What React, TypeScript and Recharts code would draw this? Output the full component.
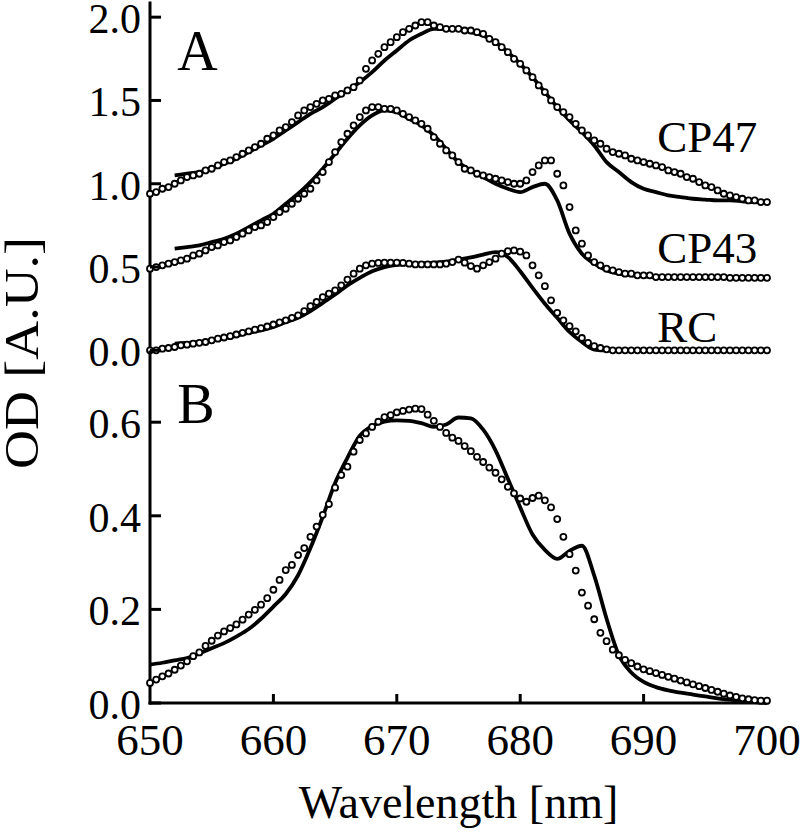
import { ComposedChart, Line, XAxis, YAxis, ReferenceDot } from "recharts";

const FONT = "Liberation Serif";
const INK = "#000";

// axis ticks
const X_TICKS = [650, 660, 670, 680, 690, 700];
const INNER_X_TICKS = [660, 670, 680, 690];
const Y_TICKS_A = [0, 0.5, 1, 1.5, 2];
const Y_TICKS_B = [0, 0.2, 0.4, 0.6];
const RIGHT_TICKS_A = [0.446, 0.893, 1.339, 1.786];
const RIGHT_TICKS_B = [0.107, 0.214, 0.321, 0.429, 0.536, 0.643];

// wavelengths (nm)
const WL_OBS = [
  650, 650.5, 651, 651.5, 652, 652.5, 653, 653.5, 654, 654.5,
  655, 655.5, 656, 656.5, 657, 657.5, 658, 658.5, 659, 659.5,
  660, 660.5, 661, 661.5, 662, 662.5, 663, 663.5, 664, 664.5,
  665, 665.5, 666, 666.5, 667, 667.5, 668, 668.5, 669, 669.5,
  670, 670.5, 671, 671.5, 672, 672.5, 673, 673.5, 674, 674.5,
  675, 675.5, 676, 676.5, 677, 677.5, 678, 678.5, 679, 679.5,
  680, 680.5, 681, 681.5, 682, 682.5, 683, 683.5, 684, 684.5,
  685, 685.5, 686, 686.5, 687, 687.5, 688, 688.5, 689, 689.5,
  690, 690.5, 691, 691.5, 692, 692.5, 693, 693.5, 694, 694.5,
  695, 695.5, 696, 696.5, 697, 697.5, 698, 698.5, 699, 699.5,
  700,
];
const WL_FIT_A = [
  652, 653, 654, 655, 656, 657, 658, 659, 660, 661,
  662, 663, 664, 665, 666, 667, 668, 669, 670, 671,
  672, 673, 674, 675, 676, 677, 678, 679, 680, 681,
  682, 683, 684, 685, 686, 687, 688, 689, 690, 691,
  692, 693, 694, 695, 696, 697, 698, 699, 700,
];
const WL_FIT_B = [
  650, 651, 652, 653, 654, 655, 656, 657, 658, 659,
  660, 661, 662, 663, 664, 665, 666, 667, 668, 669,
  670, 671, 672, 673, 674, 675, 676, 677, 678, 679,
  680, 681, 682, 683, 684, 685, 686, 687, 688, 689,
  690, 691, 692, 693, 694, 695, 696, 697, 698, 699,
  700,
];

// panel A, measured (circles)
const CP47_OBS = [
  0.94, 0.95, 0.97, 0.98, 1.0, 1.02, 1.04, 1.05, 1.06, 1.08,
  1.09, 1.11, 1.13, 1.14, 1.16, 1.18, 1.2, 1.22, 1.24, 1.27,
  1.29, 1.32, 1.34, 1.37, 1.41, 1.44, 1.46, 1.48, 1.5, 1.51,
  1.53, 1.54, 1.56, 1.58, 1.62, 1.69, 1.74, 1.78, 1.82, 1.85,
  1.88, 1.91, 1.93, 1.95, 1.97, 1.97, 1.95, 1.94, 1.93, 1.93,
  1.93, 1.92, 1.92, 1.91, 1.9, 1.87, 1.85, 1.82, 1.79, 1.75,
  1.72, 1.68, 1.64, 1.59, 1.55, 1.5, 1.46, 1.43, 1.4, 1.36,
  1.32, 1.29, 1.26, 1.24, 1.21, 1.19, 1.18, 1.17, 1.15, 1.14,
  1.13, 1.12, 1.11, 1.1, 1.08, 1.07, 1.06, 1.04, 1.03, 1.01,
  0.99, 0.98, 0.96, 0.94, 0.93, 0.92, 0.91, 0.9, 0.9, 0.89,
  0.89,
];
const CP43_OBS = [
  0.49, 0.5, 0.51, 0.52, 0.53, 0.54, 0.55, 0.57, 0.58, 0.6,
  0.62, 0.63, 0.65, 0.66, 0.68, 0.7, 0.72, 0.74, 0.75, 0.77,
  0.8, 0.83, 0.85, 0.88, 0.91, 0.94, 0.97, 1.02, 1.07, 1.13,
  1.19, 1.25, 1.3, 1.35, 1.4, 1.44, 1.46, 1.46, 1.45, 1.45,
  1.44, 1.42, 1.4, 1.38, 1.36, 1.33, 1.28, 1.24, 1.2, 1.17,
  1.13, 1.09, 1.08, 1.06, 1.05, 1.04, 1.03, 1.02, 1.01, 1.0,
  1.0, 1.02, 1.07, 1.11, 1.14, 1.14, 1.06, 0.99, 0.86, 0.72,
  0.64, 0.57, 0.53, 0.51, 0.49, 0.48, 0.47, 0.46, 0.46, 0.45,
  0.45, 0.45, 0.44, 0.44, 0.44, 0.44, 0.44, 0.44, 0.44, 0.44,
  0.44, 0.44, 0.44, 0.44, 0.435, 0.435, 0.435, 0.435, 0.435, 0.435,
  0.435,
];
const RC_OBS = [
  0.0, 0.0, 0.01, 0.014, 0.02, 0.03, 0.034, 0.04, 0.045, 0.05,
  0.06, 0.07, 0.077, 0.085, 0.095, 0.105, 0.114, 0.124, 0.133, 0.143,
  0.155, 0.168, 0.18, 0.195, 0.21, 0.235, 0.265, 0.29, 0.32, 0.34,
  0.36, 0.39, 0.425, 0.46, 0.49, 0.51, 0.52, 0.525, 0.526, 0.526,
  0.526, 0.525, 0.52, 0.516, 0.516, 0.516, 0.516, 0.516, 0.52, 0.53,
  0.545, 0.526, 0.506, 0.49, 0.51, 0.53, 0.55, 0.58, 0.595, 0.6,
  0.592, 0.57, 0.51, 0.45, 0.385, 0.3, 0.225, 0.18, 0.145, 0.114,
  0.074, 0.045, 0.025, 0.014, 0.006, 0, 0, 0, 0, 0,
  0, 0, 0, 0, 0, 0, 0, 0, 0, 0,
  0, 0, 0, 0, 0, 0, 0, 0, 0, 0,
  0,
];

// panel A, fitted (solid)
const CP47_FIT = [
  1.05, 1.06, 1.07, 1.09, 1.12, 1.15, 1.19, 1.23, 1.27, 1.32,
  1.37, 1.42, 1.46, 1.51, 1.56, 1.61, 1.67, 1.74, 1.8, 1.86,
  1.9, 1.93, 1.93, 1.93, 1.91, 1.89, 1.85, 1.79, 1.72, 1.64,
  1.55, 1.46, 1.38, 1.31, 1.23, 1.13, 1.07, 1.01, 0.97, 0.95,
  0.93, 0.92, 0.91, 0.905, 0.9, 0.9, 0.895, 0.89, 0.89,
];
const CP43_FIT = [
  0.61, 0.62, 0.63, 0.65, 0.67, 0.7, 0.74, 0.78, 0.82, 0.88,
  0.94, 1.01, 1.09, 1.18, 1.27, 1.35, 1.41, 1.44, 1.43, 1.39,
  1.35, 1.29, 1.21, 1.13, 1.08, 1.04, 1.0, 0.97, 0.95, 0.98,
  1.0, 0.9, 0.7, 0.58, 0.52, 0.48, 0.46, 0.45, 0.445, 0.44,
  0.44, 0.44, 0.44, 0.44, 0.44, 0.435, 0.435, 0.435, 0.435,
];
const RC_FIT = [
  0.04, 0.045, 0.05, 0.06, 0.073, 0.087, 0.105, 0.12, 0.14, 0.17,
  0.195, 0.235, 0.285, 0.335, 0.39, 0.435, 0.475, 0.5, 0.513, 0.518,
  0.522, 0.526, 0.533, 0.545, 0.558, 0.575, 0.59, 0.56, 0.475, 0.375,
  0.28, 0.195, 0.11, 0.05, 0.005, 0, 0, 0, 0, 0,
  0, 0, 0, 0, 0, 0, 0, 0, 0,
];

// panel B
const B_OBS = [
  0.043, 0.05, 0.057, 0.063, 0.071, 0.08, 0.089, 0.1, 0.108, 0.122,
  0.133, 0.144, 0.153, 0.16, 0.168, 0.178, 0.189, 0.199, 0.21, 0.224,
  0.242, 0.263, 0.284, 0.295, 0.316, 0.331, 0.355, 0.377, 0.402, 0.425,
  0.46, 0.487, 0.505, 0.537, 0.562, 0.576, 0.59, 0.601, 0.611, 0.615,
  0.621, 0.624, 0.627, 0.629, 0.628, 0.616, 0.603, 0.59, 0.577, 0.567,
  0.56, 0.549, 0.538, 0.526, 0.515, 0.503, 0.492, 0.478, 0.462, 0.448,
  0.437, 0.43, 0.438, 0.443, 0.433, 0.418, 0.393, 0.355, 0.318, 0.283,
  0.236, 0.208, 0.179, 0.15, 0.132, 0.114, 0.102, 0.092, 0.085, 0.078,
  0.072, 0.068, 0.064, 0.06, 0.056, 0.052, 0.048, 0.044, 0.04, 0.036,
  0.032, 0.028, 0.024, 0.02, 0.016, 0.013, 0.01, 0.008, 0.006, 0.005,
  0.005,
];
const B_FIT = [
  0.082, 0.086, 0.091, 0.096, 0.106, 0.117, 0.128, 0.142, 0.158, 0.18,
  0.206, 0.233, 0.273, 0.331, 0.398, 0.47, 0.524, 0.571, 0.592, 0.601,
  0.604, 0.603, 0.598, 0.59, 0.595, 0.61, 0.608, 0.584, 0.54, 0.479,
  0.418, 0.36, 0.327, 0.308, 0.325, 0.336, 0.272, 0.18, 0.102, 0.065,
  0.045, 0.034, 0.027, 0.022, 0.018, 0.014, 0.01, 0.007, 0.004, 0.002,
  0,
];

const pts = (xs: number[], ys: number[]) => ys.map((v, i) => ({ x: xs[i], v }));

const axisLine = { stroke: INK, strokeWidth: 3, strokeLinecap: "square" as const };
const openDot = { r: 3, fill: "#fff", stroke: INK, strokeWidth: 1.8 };

function leftTick(p: any) {
  return (
    <g>
      <line x1={p.x} x2={p.x + 11} y1={p.y} y2={p.y} stroke={INK} strokeWidth={3} />
      <text x={p.x - 9} y={p.y + 2} textAnchor="end" dominantBaseline="central"
        fontFamily={FONT} fontSize={42} fill={INK}>
        {Number(p.payload.value).toFixed(1)}
      </text>
    </g>
  );
}

// right axis of panel B alternates long and short marks
function rightTickB(p: any) {
  const len = p.index % 2 === 1 ? 12 : 7;
  return <line x1={p.x} x2={p.x - len} y1={p.y} y2={p.y} stroke={INK} strokeWidth={3} />;
}

function rightTickA(p: any) {
  return <line x1={p.x} x2={p.x - 12} y1={p.y} y2={p.y} stroke={INK} strokeWidth={3} />;
}

function topTick(p: any) {
  return <line x1={p.x} x2={p.x} y1={p.y} y2={p.y + 10} stroke={INK} strokeWidth={3} />;
}

function upTick(p: any) {
  return <line x1={p.x} x2={p.x} y1={p.y} y2={p.y - 9} stroke={INK} strokeWidth={3} />;
}

function bottomTick(p: any) {
  const v = p.payload.value;
  const inner = v !== 650 && v !== 700;
  return (
    <g>
      {inner && <line x1={p.x} x2={p.x} y1={p.y} y2={p.y - 9} stroke={INK} strokeWidth={3} />}
      <text x={p.x} y={p.y + 52} textAnchor="middle" fontFamily={FONT} fontSize={45} fill={INK}>
        {v}
      </text>
    </g>
  );
}

function yTitle() {
  return (
    <text transform="translate(38,353) rotate(-90)" textAnchor="middle"
      fontFamily={FONT} fontSize={48} fill={INK} textLength={232} lengthAdjust="spacingAndGlyphs">
      OD [A.U.]
    </text>
  );
}

const tagStyle = (size: number) => ({
  position: "right" as const,
  offset: 0,
  fontSize: size,
  fill: INK,
  fontFamily: FONT,
});

function PanelA() {
  return (
    <ComposedChart width={800} height={833} margin={{ top: 3, right: 33, bottom: 481, left: 0 }}>
      <XAxis xAxisId="b" type="number" dataKey="x" domain={[650, 700]} ticks={INNER_X_TICKS}
        height={0} interval={0} tickSize={0} tickMargin={0} tickLine={false}
        axisLine={axisLine} tick={upTick} />
      <XAxis xAxisId="t" orientation="top" type="number" dataKey="x" domain={[650, 700]}
        ticks={INNER_X_TICKS} height={0} interval={0} tickSize={0} tickMargin={0}
        tickLine={false} axisLine={axisLine} tick={topTick} />
      <YAxis yAxisId="l" type="number" domain={[-0.01, 2.085]} ticks={Y_TICKS_A} width={150}
        interval={0} tickSize={0} tickMargin={0} tickLine={false} axisLine={axisLine}
        tick={leftTick} label={yTitle} />
      <YAxis yAxisId="r" orientation="right" type="number" domain={[-0.01, 2.085]}
        ticks={RIGHT_TICKS_A} width={0} interval={0} tickSize={0} tickMargin={0}
        tickLine={false} axisLine={axisLine} tick={rightTickA} />
      {[CP47_FIT, CP43_FIT, RC_FIT].map((s, i) => (
        <Line key={"fa" + i} xAxisId="b" yAxisId="l" data={pts(WL_FIT_A, s)} dataKey="v"
          type="monotone" stroke={INK} strokeWidth={3.8} dot={false} isAnimationActive={false} />
      ))}
      {[CP47_OBS, CP43_OBS, RC_OBS].map((s, i) => (
        <Line key={"oa" + i} xAxisId="b" yAxisId="l" data={pts(WL_OBS, s)} dataKey="v"
          stroke="none" dot={openDot} activeDot={false} isAnimationActive={false} />
      ))}
      <ReferenceDot xAxisId="b" yAxisId="l" x={652.2} y={1.8} r={0} fill="none" stroke="none"
        label={{ value: "A", ...tagStyle(56) }} />
      <ReferenceDot xAxisId="b" yAxisId="l" x={691.1} y={1.287} r={0} fill="none" stroke="none"
        label={{ value: "CP47", ...tagStyle(45) }} />
      <ReferenceDot xAxisId="b" yAxisId="l" x={691.1} y={0.62} r={0} fill="none" stroke="none"
        label={{ value: "CP43", ...tagStyle(45) }} />
      <ReferenceDot xAxisId="b" yAxisId="l" x={691.1} y={0.146} r={0} fill="none" stroke="none"
        label={{ value: "RC", ...tagStyle(45) }} />
    </ComposedChart>
  );
}

function PanelB() {
  return (
    <ComposedChart width={800} height={833} margin={{ top: 352, right: 33, bottom: 0, left: 0 }}>
      <XAxis xAxisId="b" type="number" dataKey="x" domain={[650, 700]} ticks={X_TICKS}
        height={130} interval={0} tickSize={0} tickMargin={0} tickLine={false}
        axisLine={axisLine} tick={bottomTick}
        label={{ value: "Wavelength [nm]", position: "insideBottom", offset: 15,
          fontSize: 46, fill: INK, fontFamily: FONT }} />
      <YAxis yAxisId="l" type="number" domain={[0, 0.75]} ticks={Y_TICKS_B} width={150}
        interval={0} tickSize={0} tickMargin={0} tickLine={false} axisLine={axisLine}
        tick={leftTick} />
      <YAxis yAxisId="r" orientation="right" type="number" domain={[0, 0.75]}
        ticks={RIGHT_TICKS_B} width={0} interval={0} tickSize={0} tickMargin={0}
        tickLine={false} axisLine={axisLine} tick={rightTickB} />
      <Line xAxisId="b" yAxisId="l" data={pts(WL_FIT_B, B_FIT)} dataKey="v" type="monotone"
        stroke={INK} strokeWidth={3.8} dot={false} isAnimationActive={false} />
      <Line xAxisId="b" yAxisId="l" data={pts(WL_OBS, B_OBS)} dataKey="v" stroke="none"
        dot={openDot} activeDot={false} isAnimationActive={false} />
      <ReferenceDot xAxisId="b" yAxisId="l" x={652.2} y={0.641} r={0} fill="none" stroke="none"
        label={{ value: "B", ...tagStyle(56) }} />
    </ComposedChart>
  );
}

export default function App() {
  return (
    <div style={{ position: "absolute", left: 0, top: 0, width: 800, height: 833,
      background: "#fff", fontFamily: FONT }}>
      <div style={{ position: "absolute", left: 0, top: 0 }}>
        <PanelA />
      </div>
      <div style={{ position: "absolute", left: 0, top: 0 }}>
        <PanelB />
      </div>
    </div>
  );
}
